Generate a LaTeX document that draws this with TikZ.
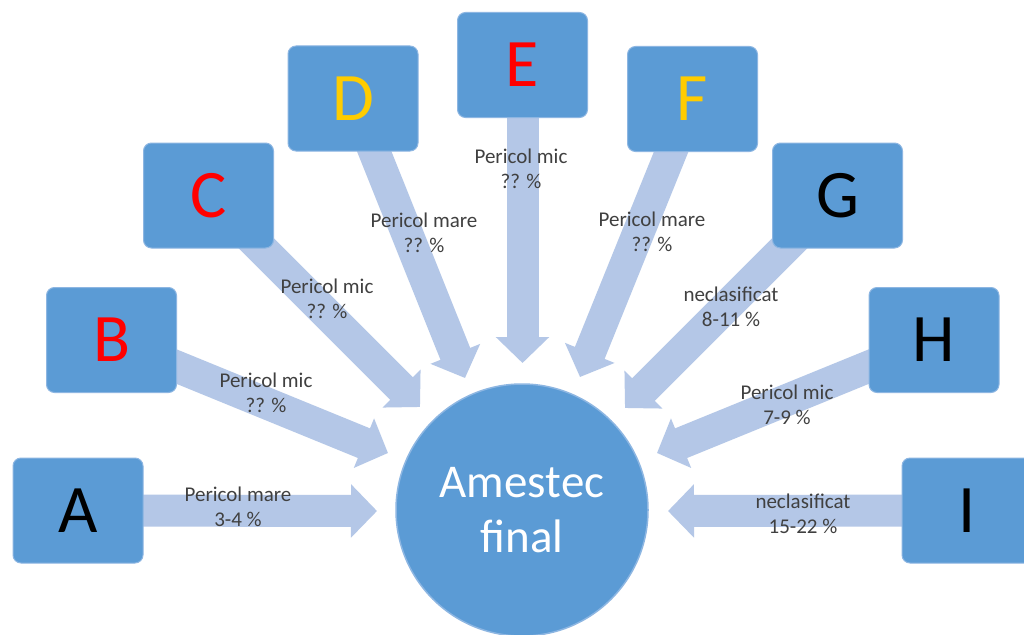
\documentclass[tikz,border=0pt]{standalone}
\usepackage{fontspec}
\setmainfont{Carlito}
\usetikzlibrary{arrows.meta,backgrounds}
\definecolor{boxblue}{HTML}{5B9BD5}
\definecolor{arrowblue}{HTML}{B4C7E7}
\definecolor{labelgray}{HTML}{404040}
\definecolor{letterred}{HTML}{FF0000}
\definecolor{letteryellow}{HTML}{FFCC00}
\definecolor{edgeblue}{HTML}{8DB6E2}
\begin{document}
\begin{tikzpicture}[x=1pt,y=-1pt,
 srcbox/.style={rounded corners=8pt, fill=boxblue, draw=edgeblue, line width=1pt,
   minimum width=130pt, minimum height=105pt, inner sep=0pt,
   font=\fontsize{68}{68}\selectfont},
 mix/.style={circle, fill=boxblue, draw=edgeblue, line width=1.5pt, minimum size=252pt,
   inner sep=0pt, text=white, align=center, font=\fontsize{47}{55}\selectfont},
 flow/.style={draw=arrowblue, line width=32pt, -{Triangle[width=52pt,length=26pt,fill=arrowblue]}},
 lbl/.style={text=labelgray, align=center, font=\fontsize{21}{25}\selectfont, inner sep=0pt}]
\useasboundingbox (0,0) rectangle (1024,634);
\clip (0,0) rectangle (1024,634);

% source boxes
\node[srcbox, text=black]        (A) at (78,510.5)  {A};
\node[srcbox, text=letterred]    (B) at (111.5,340) {B};
\node[srcbox, text=letterred]    (C) at (208.5,195.5) {C};
\node[srcbox, text=letteryellow] (D) at (353,98.5)  {D};
\node[srcbox, text=letterred]    (E) at (522.5,65)  {E};
\node[srcbox, text=letteryellow] (F) at (692.5,99)  {F};
\node[srcbox, text=black]        (G) at (837.5,195.5) {G};
\node[srcbox, text=black]        (H) at (934,340)   {H};
\node[srcbox, text=black]        (I) at (967,510.5) {I};

% final mix
\node[mix] (M) at (522,510) {Amestec\\final};

% arrow tips
\coordinate (tA) at (377,511);
\coordinate (tB) at (388,453);
\coordinate (tC) at (420,407);
\coordinate (tD) at (465,378);
\coordinate (tE) at (522.5,363);
\coordinate (tF) at (580,377);
\coordinate (tG) at (625,408);
\coordinate (tH) at (657,453);
\coordinate (tI) at (668,511);

\begin{pgfonlayer}{background}
\fill[white] (0,0) rectangle (1024,634);
\draw[flow] (A.center) -- (tA);
\draw[flow] (B.center) -- (tB);
\draw[flow] (C.center) -- (tC);
\draw[flow] (D.center) -- (tD);
\draw[flow] (E.center) -- (tE);
\draw[flow] (F.center) -- (tF);
\draw[flow] (G.center) -- (tG);
\draw[flow] (H.center) -- (tH);
\draw[flow] (I.center) -- (tI);
\end{pgfonlayer}

% labels
\node[lbl] (lA) at (238,507) {Pericol mare\\3-4 \%};
\node[lbl] (lB) at (266,393) {Pericol mic\\?? \%};
\node[lbl] (lC) at (327,299) {Pericol mic\\?? \%};
\node[lbl] (lD) at (424,233) {Pericol mare\\?? \%};
\node[lbl] (lE) at (521,169) {Pericol mic\\?? \%};
\node[lbl] (lF) at (652,232) {Pericol mare\\?? \%};
\node[lbl] (lG) at (731,307) {neclasificat\\8-11 \%};
\node[lbl] (lH) at (787,405) {Pericol mic\\7-9 \%};
\node[lbl] (lI) at (803,514) {neclasificat\\15-22 \%};
\end{tikzpicture}
\end{document}
